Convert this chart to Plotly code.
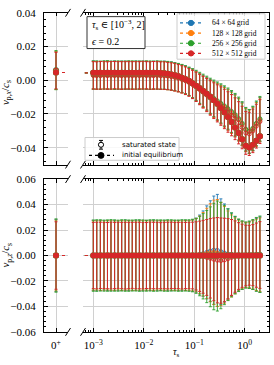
import plotly.graph_objects as go

W, H = 274, 365

# ---------------- data ----------------
TAU = [0.001, 0.00117, 0.00138, 0.00163, 0.00191, 0.00224, 0.00264, 0.0031, 0.00365, 0.00429,
       0.00504, 0.00592, 0.00697, 0.00819, 0.00962, 0.0113, 0.0133, 0.0156, 0.0184, 0.0216,
       0.0254, 0.0298, 0.0351, 0.0412, 0.0484, 0.057, 0.067, 0.0787, 0.0925, 0.109,
       0.128, 0.150, 0.177, 0.208, 0.244, 0.287, 0.337, 0.396, 0.466, 0.548,
       0.644, 0.757, 0.889, 1.05, 1.23, 1.45, 1.70, 2.0]

GRIDS = ["64 × 64 grid", "128 × 128 grid", "256 × 256 grid", "512 × 512 grid"]
COLORS = ["#1f77b4", "#ff7f0e", "#2ca02c", "#d62728"]

# initial equilibrium v_px/c_s (same for all grids)
VPX_INIT = [0.0045, 0.0045, 0.0045, 0.0045, 0.0045, 0.0045, 0.0045, 0.0045, 0.0045, 0.0045,
            0.0045, 0.0045, 0.0045, 0.0045, 0.0045, 0.0045, 0.0045, 0.0045, 0.0044, 0.0043,
            0.0041, 0.0038, 0.0034, 0.0029, 0.0023, 0.0015, 0.0006, -0.0005, -0.0018, -0.0032,
            -0.0047, -0.0063, -0.0080, -0.0098, -0.0118, -0.0140, -0.0164, -0.0190, -0.0218, -0.0248,
            -0.0280, -0.0313, -0.0350, -0.0388, -0.0398, -0.0382, -0.0358, -0.0332]
VPZ_INIT = [0.0, 0.0, 0.0, 0.0, 0.0, 0.0, 0.0, 0.0, 0.0, 0.0,
            0.0, 0.0, 0.0, 0.0, 0.0, 0.0, 0.0, 0.0, 0.0, 0.0,
            0.0, 0.0, 0.0, 0.0, 0.0, 0.0, 0.0, 0.0, 0.0, 0.0,
            0.0, 0.0, 0.0, 0.0, 0.0, 0.0, 0.0, 0.0, 0.0, 0.0,
            0.0, 0.0, 0.0, 0.0, 0.0, 0.0, 0.0, 0.0]

# saturated state, v_px/c_s mean
VPX_SAT_64 = [0.0031, 0.0030, 0.0029, 0.0031, 0.0030, 0.0030, 0.0031, 0.0029, 0.0030, 0.0031,
              0.0030, 0.0029, 0.0030, 0.0031, 0.0030, 0.0030, 0.0029, 0.0030, 0.0030, 0.0029,
              0.0030, 0.0028, 0.0025, 0.0021, 0.0016, 0.0010, 0.0002, -0.0008, -0.0020, -0.0034,
              -0.0050, -0.0066, -0.0082, -0.0098, -0.0113, -0.0128, -0.0143, -0.0158, -0.0174, -0.0191,
              -0.0210, -0.0233, -0.0260, -0.0293, -0.0303, -0.0288, -0.0260, -0.0233]
VPX_SAT_128 = [0.0030, 0.0029, 0.0030, 0.0030, 0.0031, 0.0029, 0.0030, 0.0030, 0.0029, 0.0030,
               0.0031, 0.0030, 0.0029, 0.0030, 0.0030, 0.0031, 0.0030, 0.0029, 0.0030, 0.0029,
               0.0028, 0.0026, 0.0023, 0.0019, 0.0014, 0.0008, 0.0000, -0.0010, -0.0022, -0.0036,
               -0.0052, -0.0068, -0.0084, -0.0100, -0.0115, -0.0130, -0.0145, -0.0160, -0.0176, -0.0193,
               -0.0212, -0.0235, -0.0262, -0.0295, -0.0305, -0.0290, -0.0262, -0.0235]
VPX_SAT_256 = [0.0031, 0.0031, 0.0030, 0.0031, 0.0032, 0.0031, 0.0030, 0.0031, 0.0031, 0.0030,
               0.0031, 0.0032, 0.0031, 0.0030, 0.0031, 0.0031, 0.0030, 0.0031, 0.0031, 0.0030,
               0.0030, 0.0028, 0.0025, 0.0021, 0.0016, 0.0010, 0.0003, -0.0006, -0.0017, -0.0030,
               -0.0045, -0.0060, -0.0076, -0.0092, -0.0107, -0.0122, -0.0137, -0.0152, -0.0168, -0.0185,
               -0.0204, -0.0227, -0.0255, -0.0290, -0.0303, -0.0285, -0.0255, -0.0228]
VPX_SAT_512 = [0.0029, 0.0028, 0.0029, 0.0029, 0.0028, 0.0029, 0.0030, 0.0029, 0.0028, 0.0029,
               0.0029, 0.0028, 0.0029, 0.0029, 0.0030, 0.0029, 0.0028, 0.0029, 0.0029, 0.0028,
               0.0027, 0.0025, 0.0022, 0.0018, 0.0012, 0.0005, -0.0003, -0.0013, -0.0025, -0.0039,
               -0.0055, -0.0071, -0.0088, -0.0105, -0.0121, -0.0137, -0.0153, -0.0170, -0.0188, -0.0207,
               -0.0228, -0.0252, -0.0280, -0.0312, -0.0318, -0.0300, -0.0272, -0.0245]

# saturated state, v_px/c_s spread
VPX_ERR_64 = [0.0083, 0.0082, 0.0083, 0.0082, 0.0083, 0.0082, 0.0083, 0.0082, 0.0083, 0.0082,
              0.0083, 0.0082, 0.0083, 0.0082, 0.0083, 0.0082, 0.0083, 0.0082, 0.0083, 0.0082,
              0.0083, 0.0082, 0.0083, 0.0082, 0.0083, 0.0082, 0.0083, 0.0083, 0.0085, 0.0088,
              0.0091, 0.0095, 0.0099, 0.0103, 0.0107, 0.0111, 0.0115, 0.0118, 0.0121, 0.0123,
              0.0125, 0.0126, 0.0127, 0.0128, 0.0129, 0.0130, 0.0131, 0.0131]
VPX_ERR_128 = [0.0082, 0.0082, 0.0082, 0.0082, 0.0082, 0.0082, 0.0082, 0.0082, 0.0082, 0.0082,
               0.0082, 0.0082, 0.0082, 0.0082, 0.0082, 0.0082, 0.0082, 0.0082, 0.0082, 0.0082,
               0.0082, 0.0082, 0.0082, 0.0082, 0.0082, 0.0082, 0.0082, 0.0082, 0.0084, 0.0087,
               0.0090, 0.0094, 0.0098, 0.0102, 0.0106, 0.0110, 0.0114, 0.0117, 0.0120, 0.0122,
               0.0124, 0.0125, 0.0126, 0.0127, 0.0128, 0.0129, 0.0130, 0.0130]
VPX_ERR_256 = [0.0084, 0.0084, 0.0083, 0.0084, 0.0084, 0.0083, 0.0084, 0.0084, 0.0083, 0.0084,
               0.0084, 0.0083, 0.0084, 0.0084, 0.0083, 0.0084, 0.0084, 0.0083, 0.0084, 0.0084,
               0.0083, 0.0084, 0.0084, 0.0083, 0.0084, 0.0084, 0.0083, 0.0084, 0.0086, 0.0089,
               0.0092, 0.0096, 0.0100, 0.0104, 0.0108, 0.0112, 0.0116, 0.0119, 0.0122, 0.0124,
               0.0126, 0.0127, 0.0128, 0.0129, 0.0130, 0.0131, 0.0132, 0.0132]
VPX_ERR_512 = [0.0081, 0.0081, 0.0082, 0.0081, 0.0081, 0.0082, 0.0081, 0.0081, 0.0082, 0.0081,
               0.0081, 0.0082, 0.0081, 0.0081, 0.0082, 0.0081, 0.0081, 0.0082, 0.0081, 0.0081,
               0.0082, 0.0081, 0.0081, 0.0082, 0.0081, 0.0081, 0.0082, 0.0082, 0.0084, 0.0087,
               0.0090, 0.0094, 0.0098, 0.0102, 0.0106, 0.0110, 0.0114, 0.0117, 0.0120, 0.0122,
               0.0124, 0.0125, 0.0126, 0.0127, 0.0128, 0.0129, 0.0130, 0.0130]

# saturated state, v_pz/c_s mean
VPZ_SAT_64 = [0.0001, -0.0001, 0.0000, 0.0002, -0.0001, 0.0000, 0.0001, -0.0002, 0.0000, 0.0001,
              0.0000, -0.0001, 0.0001, 0.0000, -0.0001, 0.0001, 0.0000, 0.0001, -0.0001, 0.0000,
              0.0001, 0.0000, -0.0001, 0.0001, 0.0000, 0.0001, 0.0000, -0.0001, 0.0000, 0.0003,
              0.0008, 0.0015, 0.0025, 0.0035, 0.0042, 0.0040, 0.0030, 0.0020, 0.0012, 0.0008,
              0.0005, 0.0003, 0.0002, 0.0003, 0.0005, 0.0006, 0.0007, 0.0008]
VPZ_SAT_128 = [0.0000, 0.0001, -0.0001, 0.0000, 0.0001, 0.0000, -0.0001, 0.0001, 0.0000, 0.0000,
               0.0001, 0.0000, -0.0001, 0.0000, 0.0001, 0.0000, 0.0000, -0.0001, 0.0001, 0.0000,
               0.0000, 0.0001, 0.0000, -0.0001, 0.0000, 0.0001, 0.0000, 0.0000, 0.0000, 0.0002,
               0.0005, 0.0010, 0.0016, 0.0022, 0.0025, 0.0020, 0.0012, 0.0005, 0.0000, -0.0003,
               -0.0002, 0.0000, 0.0002, 0.0003, 0.0004, 0.0005, 0.0005, 0.0006]
VPZ_SAT_256 = [-0.0001, 0.0000, 0.0001, -0.0001, 0.0000, 0.0001, 0.0000, -0.0001, 0.0001, 0.0000,
               -0.0001, 0.0000, 0.0001, 0.0000, 0.0000, -0.0001, 0.0001, 0.0000, 0.0000, 0.0001,
               -0.0001, 0.0000, 0.0001, 0.0000, -0.0001, 0.0000, 0.0001, 0.0000, 0.0000, -0.0002,
               -0.0004, -0.0006, -0.0008, -0.0010, -0.0008, -0.0004, 0.0000, 0.0004, 0.0006, 0.0005,
               0.0003, 0.0002, 0.0003, 0.0004, 0.0006, 0.0008, 0.0009, 0.0010]
VPZ_SAT_512 = [0.0000, 0.0000, 0.0001, 0.0000, -0.0001, 0.0000, 0.0000, 0.0001, 0.0000, -0.0001,
               0.0000, 0.0001, 0.0000, 0.0000, -0.0001, 0.0000, 0.0001, 0.0000, 0.0000, -0.0001,
               0.0000, 0.0000, 0.0001, 0.0000, 0.0000, -0.0001, 0.0000, 0.0000, 0.0000, -0.0003,
               -0.0006, -0.0010, -0.0015, -0.0022, -0.0030, -0.0037, -0.0040, -0.0035, -0.0025, -0.0015,
               -0.0008, -0.0004, -0.0002, 0.0000, 0.0002, 0.0003, 0.0003, 0.0004]

# saturated state, v_pz/c_s spread
VPZ_ERR_64 = [0.0275, 0.0276, 0.0275, 0.0274, 0.0275, 0.0276, 0.0275, 0.0274, 0.0275, 0.0276,
              0.0275, 0.0274, 0.0275, 0.0276, 0.0275, 0.0274, 0.0275, 0.0276, 0.0275, 0.0274,
              0.0275, 0.0276, 0.0275, 0.0274, 0.0275, 0.0276, 0.0275, 0.0276, 0.0280, 0.0290,
              0.0310, 0.0335, 0.0365, 0.0395, 0.0425, 0.0440, 0.0415, 0.0385, 0.0355, 0.0325,
              0.0300, 0.0280, 0.0265, 0.0255, 0.0260, 0.0270, 0.0285, 0.0295]
VPZ_ERR_128 = [0.0272, 0.0272, 0.0273, 0.0272, 0.0272, 0.0273, 0.0272, 0.0272, 0.0273, 0.0272,
               0.0272, 0.0273, 0.0272, 0.0272, 0.0273, 0.0272, 0.0272, 0.0273, 0.0272, 0.0272,
               0.0273, 0.0272, 0.0272, 0.0273, 0.0272, 0.0272, 0.0273, 0.0273, 0.0278, 0.0288,
               0.0305, 0.0328, 0.0355, 0.0385, 0.0410, 0.0420, 0.0405, 0.0380, 0.0350, 0.0322,
               0.0298, 0.0278, 0.0263, 0.0255, 0.0258, 0.0268, 0.0280, 0.0290]
VPZ_ERR_256 = [0.0280, 0.0281, 0.0280, 0.0279, 0.0280, 0.0281, 0.0280, 0.0279, 0.0280, 0.0281,
               0.0280, 0.0279, 0.0280, 0.0281, 0.0280, 0.0279, 0.0280, 0.0281, 0.0280, 0.0279,
               0.0280, 0.0281, 0.0280, 0.0279, 0.0280, 0.0281, 0.0280, 0.0281, 0.0285, 0.0295,
               0.0312, 0.0335, 0.0362, 0.0392, 0.0418, 0.0432, 0.0418, 0.0390, 0.0360, 0.0330,
               0.0305, 0.0285, 0.0270, 0.0260, 0.0265, 0.0275, 0.0290, 0.0300]
VPZ_ERR_512 = [0.0260, 0.0261, 0.0260, 0.0259, 0.0260, 0.0261, 0.0260, 0.0259, 0.0260, 0.0261,
               0.0260, 0.0259, 0.0260, 0.0261, 0.0260, 0.0259, 0.0260, 0.0261, 0.0260, 0.0259,
               0.0260, 0.0261, 0.0260, 0.0259, 0.0260, 0.0261, 0.0260, 0.0260, 0.0262, 0.0268,
               0.0276, 0.0286, 0.0298, 0.0312, 0.0325, 0.0335, 0.0335, 0.0328, 0.0315, 0.0298,
               0.0280, 0.0262, 0.0248, 0.0238, 0.0235, 0.0240, 0.0252, 0.0262]

# tau_s -> 0+ limit (one value per grid)
VPX0_INIT = 0.0046
VPX0_SAT = [0.0059, 0.0058, 0.0060, 0.0057]
VPX0_ERR = [0.0112, 0.0113, 0.0116, 0.0108]
VPZ0_INIT = 0.0
VPZ0_SAT = [0.0, 0.0, 0.0, 0.0]
VPZ0_ERR = [0.0282, 0.0278, 0.0288, 0.0265]

X_TICKS = [0.001, 0.01, 0.1, 1.0]
X_TICK_TEXT = ["10<sup>−3</sup>", "10<sup>−2</sup>", "10<sup>−1</sup>", "10<sup>0</sup>"]

VPX_SAT = [VPX_SAT_64, VPX_SAT_128, VPX_SAT_256, VPX_SAT_512]
VPX_ERR = [VPX_ERR_64, VPX_ERR_128, VPX_ERR_256, VPX_ERR_512]
VPZ_SAT = [VPZ_SAT_64, VPZ_SAT_128, VPZ_SAT_256, VPZ_SAT_512]
VPZ_ERR = [VPZ_ERR_64, VPZ_ERR_128, VPZ_ERR_256, VPZ_ERR_512]

# ---------------- figure ----------------
SERIF = "Liberation Serif, DejaVu Serif, serif"
SANS = "DejaVu Sans, sans-serif"
GRIDC = "#d0d0d0"


def rgba(hexc, a):
    h = hexc.lstrip("#")
    return "rgba(%d,%d,%d,%s)" % (int(h[0:2], 16), int(h[2:4], 16), int(h[4:6], 16), a)


def px(x, y):
    return x / W, 1 - y / H


fig = go.Figure()

panels = [
    ("x", "y", "x2", "y2", VPX_SAT, VPX_ERR, VPX_INIT, VPX0_SAT, VPX0_ERR, VPX0_INIT),
    ("x3", "y3", "x4", "y4", VPZ_SAT, VPZ_ERR, VPZ_INIT, VPZ0_SAT, VPZ0_ERR, VPZ0_INIT),
]

for (xl, yl, xr, yr, sat, err, init, sat0, err0, init0) in panels:
    for g in range(4):
        c = COLORS[g]
        ecol = c if g == 3 else rgba(c, 0.9)
        fig.add_trace(go.Scatter(
            x=TAU, y=sat[g], xaxis=xr, yaxis=yr, mode="markers",
            marker=dict(symbol="circle-open", size=4, color=c, line=dict(width=0.9, color=c)),
            error_y=dict(type="data", array=err[g], color=ecol, thickness=1.0, width=1.5),
            showlegend=False, hoverinfo="skip"))
        fig.add_trace(go.Scatter(
            x=[0.0], y=[sat0[g]], xaxis=xl, yaxis=yl, mode="markers",
            marker=dict(symbol="circle-open", size=5, color=c, line=dict(width=1, color=c)),
            error_y=dict(type="data", array=[err0[g]], color=ecol, thickness=1.0, width=1.5),
            showlegend=False, hoverinfo="skip"))
    for g in range(4):
        c = COLORS[g]
        fig.add_trace(go.Scatter(
            x=[TAU[0] * 0.1] + TAU, y=[init0] + init, xaxis=xr, yaxis=yr, mode="lines+markers",
            line=dict(color=c, width=1.2, dash="dot"),
            marker=dict(symbol="circle", size=6, color=c),
            showlegend=False, hoverinfo="skip"))
        fig.add_trace(go.Scatter(
            x=[0.0, 5.0], y=[init0, init0], xaxis=xl, yaxis=yl, mode="lines",
            line=dict(color=c, width=1.2, dash="dot"),
            showlegend=False, hoverinfo="skip"))
        fig.add_trace(go.Scatter(
            x=[0.0], y=[init0], xaxis=xl, yaxis=yl, mode="markers",
            marker=dict(symbol="circle", size=6, color=c),
            showlegend=False, hoverinfo="skip"))

XL = [44 / W, 68 / W]
XR = [83 / W, 269 / W]
YT = [1 - 164 / H, 1 - 7 / H]
YB = [1 - 337 / H, 1 - 179 / H]

tickfont = dict(family=SERIF, size=11, color="black")
minor_log = [m * 10.0 ** k for k in range(-4, 1) for m in range(2, 10)]

common_x = dict(showline=True, linecolor="black", linewidth=1, mirror="allticks",
                ticks="inside", ticklen=3.5, tickcolor="black", showgrid=True,
                gridcolor=GRIDC, gridwidth=1, zeroline=False, tickfont=tickfont,
                ticklabelstandoff=3)
common_y = dict(showline=True, linecolor="black", linewidth=1, ticks="inside", ticklen=3.5,
                tickcolor="black", showgrid=True, gridcolor=GRIDC, gridwidth=1, zeroline=False,
                dtick=0.02, tick0=0, tickformat=".2f", tickfont=tickfont,
                minor=dict(ticks="inside", ticklen=2, dtick=0.004, tick0=0, tickcolor="black",
                           showgrid=False))

fig.update_layout(
    width=W, height=H, margin=dict(l=0, r=0, t=0, b=0),
    paper_bgcolor="white", plot_bgcolor="white", showlegend=False,
    xaxis=dict(domain=XL, anchor="y", range=[-1, 1], tickvals=[0], showticklabels=False, **common_x),
    xaxis3=dict(domain=XL, anchor="y3", range=[-1, 1], tickvals=[0], ticktext=["0<sup>+</sup>"],
                **common_x),
    xaxis2=dict(domain=XR, anchor="y2", type="log", range=[-3.204, 0.481], tickvals=X_TICKS,
                showticklabels=False,
                minor=dict(ticks="inside", ticklen=2, tickvals=minor_log, tickcolor="black", showgrid=False),
                **common_x),
    xaxis4=dict(domain=XR, anchor="y4", type="log", range=[-3.204, 0.481], tickvals=X_TICKS,
                ticktext=X_TICK_TEXT,
                minor=dict(ticks="inside", ticklen=2, tickvals=minor_log, tickcolor="black", showgrid=False),
                **common_x),
    yaxis=dict(domain=YT, anchor="x", range=[-0.05, 0.04], ticklabelstandoff=5, **common_y),
    yaxis2=dict(domain=YT, anchor="x2", range=[-0.05, 0.04], side="right", showticklabels=False, **common_y),
    yaxis3=dict(domain=YB, anchor="x3", range=[-0.06, 0.06], ticklabelstandoff=5, **common_y),
    yaxis4=dict(domain=YB, anchor="x4", range=[-0.06, 0.06], side="right", showticklabels=False, **common_y),
)

shapes = []
annotations = []


def rect(x0, y0, x1, y1, line, fill, width=1):
    a, b = px(x0, y1)
    c, d = px(x1, y0)
    shapes.append(dict(type="rect", xref="paper", yref="paper", x0=a, y0=b, x1=c, y1=d,
                       line=dict(color=line, width=width), fillcolor=fill, layer="above"))


def seg(x0, y0, x1, y1, color, width=1, dash="solid"):
    a, b = px(x0, y0)
    c, d = px(x1, y1)
    shapes.append(dict(type="line", xref="paper", yref="paper", x0=a, y0=b, x1=c, y1=d,
                       line=dict(color=color, width=width, dash=dash), layer="above"))


def dot(cx, cy, r, color, fill):
    a, b = px(cx - r, cy + r)
    c, d = px(cx + r, cy - r)
    shapes.append(dict(type="circle", xref="paper", yref="paper", x0=a, y0=b, x1=c, y1=d,
                       line=dict(color=color, width=1), fillcolor=fill, layer="above"))


def text(s, x, y, size, family, xanchor="left", angle=0):
    a, b = px(x, y)
    annotations.append(dict(text=s, x=a, y=b, xref="paper", yref="paper", showarrow=False,
                            xanchor=xanchor, yanchor="middle", textangle=angle,
                            font=dict(family=family, size=size, color="black")))


# axis-break marks
for yb in [7, 164, 179, 337]:
    for xb in [68, 83]:
        seg(xb - 2.5, yb + 4, xb + 2.5, yb - 4, "black", 1)

# parameter box
rect(87, 11, 145, 44, "#333333", "white", 1)
text("<i>τ</i><sub>s</sub> ∈ [10<sup>−3</sup>, 2]", 90, 20, 10, SERIF)
text("<i>ϵ</i> = 0.2", 90, 36.5, 10, SERIF)

# grid legend
rect(177, 8, 265, 55, "#cccccc", "rgba(255,255,255,0.85)", 1)
for g, yy in enumerate([17.5, 28, 38.5, 49]):
    seg(180, yy, 201, yy, COLORS[g], 1.2, "dot")
    dot(191, yy, 2.7, COLORS[g], COLORS[g])
    text(GRIDS[g], 210, yy, 7.5, SERIF)

# state legend
rect(85, 136, 179, 159.5, "#cccccc", "rgba(255,255,255,0.85)", 1)
seg(101, 139, 101, 148, "black", 1)
seg(99, 139, 103, 139, "black", 1)
seg(99, 148, 103, 148, "black", 1)
dot(101, 143.5, 2.6, "black", "white")
text("saturated state", 120, 143.5, 7, SANS)
seg(89, 154.5, 114, 154.5, "black", 1.2, "dot")
dot(101, 154.5, 3, "black", "black")
text("initial equilibrium", 120, 154.5, 7, SANS)

# axis titles
text("<i>v</i><sub>p,<i>x</i></sub>/<i>c</i><sub>s</sub>", 6, 90, 11, SERIF, "center", -90)
text("<i>v</i><sub>p,<i>z</i></sub>/<i>c</i><sub>s</sub>", 6, 258, 11, SERIF, "center", -90)
text("<i>τ</i><sub>s</sub>", 176, 358, 10, SERIF, "center")

fig.update_layout(shapes=shapes, annotations=annotations)

fig.write_html("out.html", config={"displayModeBar": False, "staticPlot": True},
               post_script="document.body.style.margin='0px';document.body.style.overflow='hidden';")
